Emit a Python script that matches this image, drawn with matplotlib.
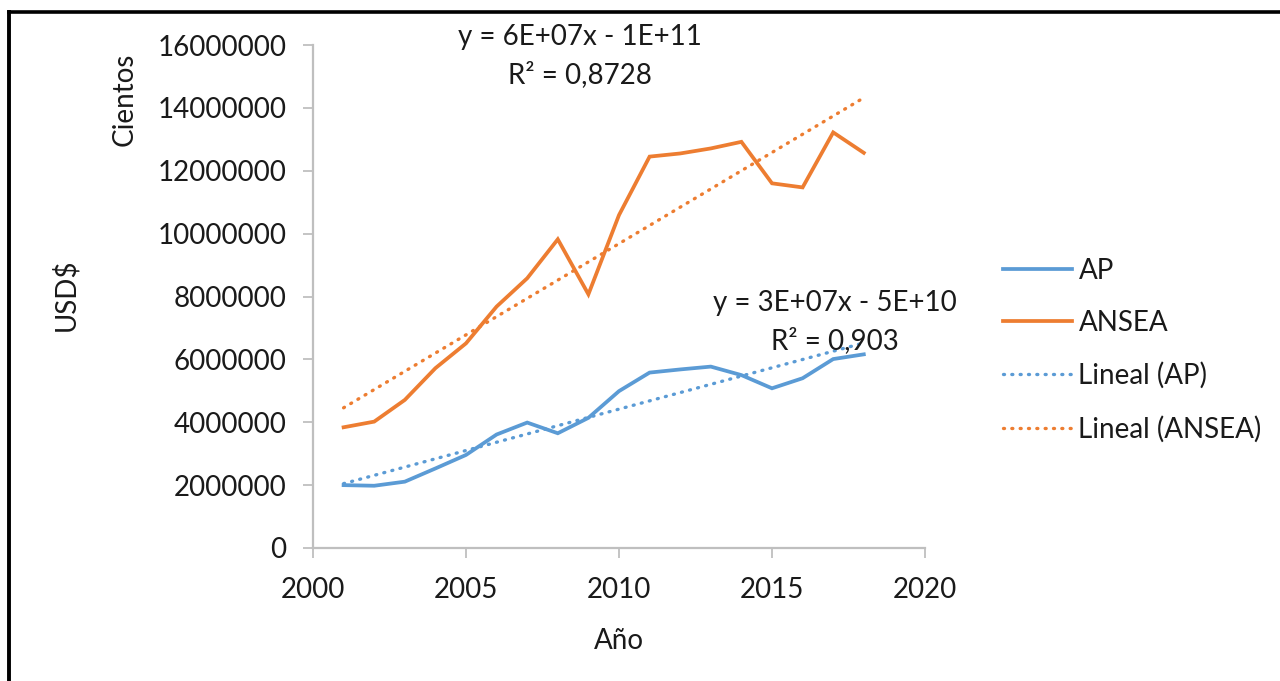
import matplotlib
matplotlib.use("Agg")
import matplotlib.pyplot as plt
from matplotlib.lines import Line2D
import numpy as np

plt.rcParams['font.family'] = ['Lato', 'DejaVu Sans']
plt.rcParams['font.weight'] = 'normal'

years = [2001, 2002, 2003, 2004, 2005, 2006, 2007, 2008, 2009,
         2010, 2011, 2012, 2013, 2014, 2015, 2016, 2017, 2018]
ap = [2.00e6, 1.98e6, 2.11e6, 2.53e6, 2.96e6, 3.61e6, 3.99e6, 3.65e6, 4.14e6,
      4.99e6, 5.58e6, 5.68e6, 5.77e6, 5.50e6, 5.08e6, 5.40e6, 6.01e6, 6.16e6]
ansea = [3.84e6, 4.02e6, 4.71e6, 5.72e6, 6.51e6, 7.68e6, 8.58e6, 9.82e6, 8.07e6,
         10.59e6, 12.45e6, 12.55e6, 12.71e6, 12.92e6, 11.60e6, 11.47e6, 13.22e6, 12.57e6]
series_names = ["AP", "ANSEA", "Lineal (AP)", "Lineal (ANSEA)"]
eq_ap = ["y = 3E+07x - 5E+10", "R² = 0,903"]
eq_ansea = ["y = 6E+07x - 1E+11", "R² = 0,8728"]
x_ticks = [2000, 2005, 2010, 2015, 2020]
y_ticks = [0, 2000000, 4000000, 6000000, 8000000, 10000000, 12000000, 14000000, 16000000]

BLUE = "#5B9BD5"
ORANGE = "#ED7D31"
GREY = "#BFBFBF"
FS = 20

fig = plt.figure(figsize=(12.8, 6.81), dpi=100)
ax = fig.add_axes([313/1280, 1-548/681, (925-313)/1280, (548-45)/681])

x = np.array(years, dtype=float)
ax.plot(x, ap, color=BLUE, lw=2.7, label=series_names[0], solid_joinstyle='miter')
ax.plot(x, ansea, color=ORANGE, lw=2.7, label=series_names[1], solid_joinstyle='miter')

p_ap = np.polyfit(x, ap, 1)
p_an = np.polyfit(x, ansea, 1)
ax.plot(x, np.polyval(p_ap, x), color=BLUE, lw=2.4, linestyle=(0, (0.3, 2.2)),
        dash_capstyle='round', label=series_names[2])
ax.plot(x, np.polyval(p_an, x), color=ORANGE, lw=2.4, linestyle=(0, (0.3, 2.2)),
        dash_capstyle='round', label=series_names[3])

ax.set_xlim(2000, 2020)
ax.set_ylim(0, 16000000)
ax.set_xticks(x_ticks)
ax.set_yticks(y_ticks)
ax.set_xticklabels([str(t) for t in x_ticks])
ax.set_yticklabels([str(t) for t in y_ticks])
for s in ['top', 'right']:
    ax.spines[s].set_visible(False)
for s in ['left', 'bottom']:
    ax.spines[s].set_color(GREY)
    ax.spines[s].set_linewidth(1.6)
ax.tick_params(axis='both', direction='out', length=7, width=1.3, color=GREY,
               labelsize=FS, labelcolor='#1a1a1a')
ax.tick_params(axis='x', pad=14)
ax.tick_params(axis='y', pad=12)

tkw = dict(fontsize=FS, color='#1a1a1a')
ax.set_xlabel("Año", labelpad=18, **tkw)
fig.text(65/1280, 1-295/681, "USD$", rotation=90, ha='center', va='center', **tkw)
fig.text(125/1280, 1-99/681, "Cientos", rotation=90, ha='center', va='center', **tkw)

fig.text(580/1280, 1-37/681, eq_ansea[0], ha='center', va='center', **tkw)
fig.text(580/1280, 1-75/681, eq_ansea[1], ha='center', va='center', **tkw)
fig.text(835/1280, 1-303/681, eq_ap[0], ha='center', va='center', **tkw)
fig.text(835/1280, 1-341/681, eq_ap[1], ha='center', va='center', **tkw)

handles, labels = ax.get_legend_handles_labels()
leg = fig.legend(handles, labels, loc='center left', bbox_to_anchor=(984/1280, 1-350/681),
                 frameon=False, fontsize=FS, handlelength=2.45, handletextpad=0.25,
                 labelspacing=0.95, labelcolor='#1a1a1a', borderpad=0.2)

# outer frame (top and left edges)
fig.add_artist(Line2D([9/1280, 1], [1-12/681, 1-12/681], color='black', lw=2.6,
                      transform=fig.transFigure, solid_capstyle='projecting'))
fig.add_artist(Line2D([9/1280, 9/1280], [0, 1-12/681], color='black', lw=2.8,
                      transform=fig.transFigure, solid_capstyle='projecting'))

fig.savefig("out.png", dpi=100)
